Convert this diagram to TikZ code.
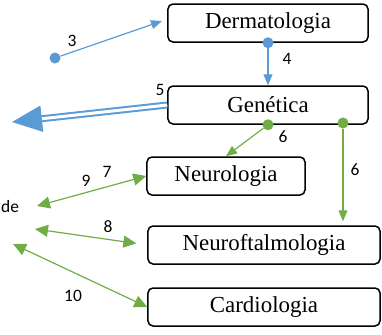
\documentclass[tikz,border=0pt]{standalone}
\usepackage{fontspec}
\setmainfont{Liberation Serif}
\newfontfamily\numfont{Carlito}
\usetikzlibrary{arrows.meta}
\definecolor{azul}{HTML}{5B9BD5}
\definecolor{verde}{HTML}{70AD47}

\begin{document}
\begin{tikzpicture}[x=1bp,y=-1bp,
  box/.style={draw,rounded corners=5bp,line width=1.5bp,minimum height=38bp,inner sep=0pt,font=\fontsize{23}{23}\selectfont},
  num/.style={inner sep=0pt,font=\numfont\fontsize{17.5}{18}\selectfont},
  bdot/.style={circle,fill=azul,inner sep=0pt,minimum size=11bp},
  gdot/.style={circle,fill=verde,inner sep=0pt,minimum size=11bp},
  barrow/.style={azul,line width=1.2bp,-{Triangle[length=11bp,width=9bp]}},
  garrow/.style={verde,line width=1.2bp,-{Triangle[length=11bp,width=9bp]}},
  gboth/.style={verde,line width=1.2bp,{Triangle[length=13bp,width=12bp]}-{Triangle[length=13bp,width=12bp]}}]
\useasboundingbox (0,0) rectangle (382,335);

% the boxes
\node[box,minimum width=200bp] (Derm) at (268,23) {Dermatologia};
\node[box,minimum width=200bp] (Gen) at (268,105) {Genética};
\node[box,minimum width=158bp] (Neuro) at (226,176) {Neurologia};
\node[box,minimum width=232bp] (Neuroft) at (264,245) {Neuroftalmologia};
\node[box,minimum width=232bp] (Card) at (264,307) {Cardiologia};

\node[num,anchor=west] (ud) at (1,207) {de};

% blue links
\node[bdot] (P3) at (55,58) {};
\coordinate (E3) at (162,21);
\draw[barrow] (P3) -- (E3);
\node[bdot] (P4) at (Derm.south) {};
\draw[barrow] (P4) -- (Gen.north);
\coordinate (E5) at (12,122);
\draw[azul,line width=2bp,double,double distance=3bp,-{Triangle[length=30bp,width=26bp]}] (Gen.west) -- (E5);

% green links
\node[gdot] (G1) at (Gen.south) {};
\node[gdot] (G2) at (343,123) {};
\draw[garrow] (G1) -- (Neuro.north);
\draw[garrow,shorten >=4bp] (G2) -- (G2 |- Neuroft.north);

\coordinate (L9) at (37,206);
\coordinate (L8) at (35,229);
\coordinate (L10) at (13,244);
\draw[gboth] (L9) -- (Neuro.west);
\draw[gboth,shorten >=11bp] (L8) -- (Neuroft.west);
\draw[gboth] (L10) -- (Card.west);

% numbers
\node[num] at (72,41) {3};
\node[num] at (287,59) {4};
\node[num] at (160,90) {5};
\node[num] at (283,137) {6};
\node[num] at (355,170) {6};
\node[num] at (86,181) {9};
\node[num] at (107,172) {7};
\node[num] at (108,227) {8};
\node[num] at (73,296) {10};
\end{tikzpicture}
\end{document}
